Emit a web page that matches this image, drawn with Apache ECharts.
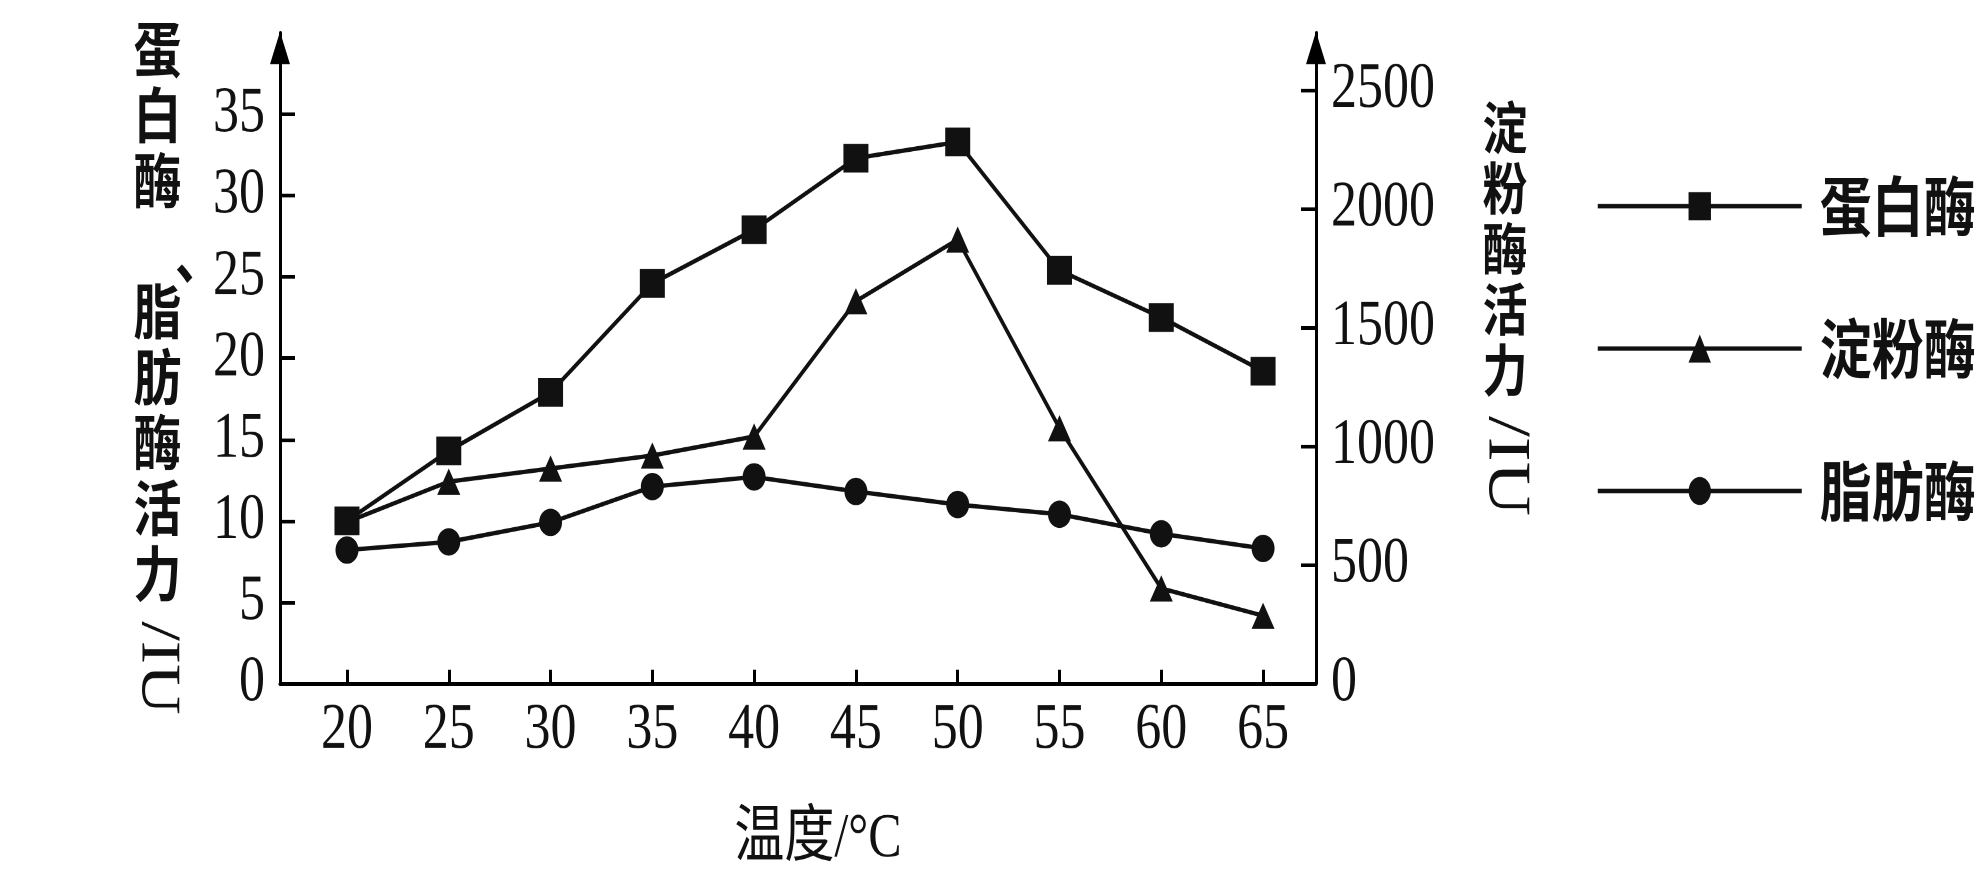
<!DOCTYPE html>
<html>
<head>
<meta charset="utf-8">
<title>温度对酶活力的影响</title>
<script src="https://cdn.jsdelivr.net/npm/echarts@6/dist/echarts.min.js"></script>
<style>
  html, body { margin: 0; padding: 0; background: #fff; overflow: hidden; }
  #wrap { width: 1977px; height: 877px; overflow: hidden; }
  /* the figure is typeset tall and narrow, so the drawing is stretched vertically */
  #chart { width: 1977px; height: 702px; transform: scaleY(1.2493); transform-origin: 0 0; }
</style>
</head>
<body>
<div id="wrap"><div id="chart"></div></div>
<script>
// temperature (°C)
const temperatures = [20, 25, 30, 35, 40, 45, 50, 55, 60, 65];
// protease activity (IU, left axis)
const proteaseActivity = [10.0, 14.3, 17.9, 24.6, 27.9, 32.3, 33.3, 25.4, 22.5, 19.2];
// lipase activity (IU, left axis)
const lipaseActivity = [8.2, 8.7, 9.9, 12.1, 12.7, 11.8, 11.0, 10.4, 9.2, 8.3];
// amylase activity (IU, right axis)
const amylaseActivity = [680, 850, 905, 960, 1040, 1610, 1870, 1075, 400, 285];
// tick labels
const leftTicks = [0, 5, 10, 15, 20, 25, 30, 35];
const rightTicks = [0, 500, 1000, 1500, 2000, 2500];
const seriesNames = ['蛋白酶', '淀粉酶', '脂肪酶'];

const SERIF = "'Liberation Serif', 'Noto Sans CJK SC', serif";
const CJK = "'Noto Sans CJK SC', sans-serif";
const INK = '#111';

const pairs = (vals) => temperatures.map((t, i) => [t, vals[i]]);

const axisLineStyle = { color: '#000', width: 3 };

function yAxisOf(position, max, ticks) {
  return {
    type: 'value',
    position: position,
    min: 0,
    max: max,
    axisLine: {
      show: true,
      lineStyle: axisLineStyle,
      symbol: ['none', 'triangle'],
      symbolSize: [20, 26],
      symbolOffset: [0, -12]
    },
    axisTick: {
      show: true, inside: true, length: 15,
      customValues: ticks,
      lineStyle: { color: '#000', width: 3 }
    },
    axisLabel: {
      show: true, margin: 15,
      customValues: ticks,
      formatter: (v) => String(v),
      fontFamily: SERIF, fontSize: 52, color: INK
    },
    splitLine: { show: false }
  };
}

// vertical axis titles: CJK upright, Latin unit turned clockwise
const titleStyle = (text, size, lh) => ({
  text: text, fontFamily: CJK, fontSize: size, fontWeight: 'bold', lineHeight: lh,
  fill: INK, align: 'center', verticalAlign: 'middle'
});
const unitStyle = (size) => ({
  text: '/IU', fontFamily: SERIF, fontSize: size,
  fill: INK, align: 'center', verticalAlign: 'middle'
});

// rendered at double resolution so the vertical stretch stays sharp
const chart = echarts.init(document.getElementById('chart'), null, { renderer: 'canvas', devicePixelRatio: 2 });

chart.setOption({
  animation: false,
  backgroundColor: '#fff',
  grid: { left: 280, right: 661, top: 26.4, bottom: 142.5, containLabel: false },
  xAxis: {
    type: 'value',
    min: 16.71,
    max: 67.6,
    axisLine: { show: true, lineStyle: axisLineStyle },
    axisTick: {
      show: true, inside: true, length: 11,
      customValues: temperatures,
      lineStyle: { color: '#000', width: 3 }
    },
    axisLabel: {
      show: true, margin: 12,
      customValues: temperatures,
      fontFamily: SERIF, fontSize: 52, color: INK
    },
    splitLine: { show: false },
    name: '温度/°C',
    nameLocation: 'middle',
    nameGap: 100,
    nameTextStyle: {
      fontFamily: SERIF, fontSize: 50, color: INK,
      padding: [0, 0, 0, 40]
    }
  },
  yAxis: [
    yAxisOf('left', 40, leftTicks),
    yAxisOf('right', 2740, rightTicks)
  ],
  legend: {
    orient: 'vertical',
    left: 1591,
    top: 134,
    itemWidth: 204,
    itemHeight: 28,
    itemGap: 62,
    data: seriesNames,
    lineStyle: { width: 3.5, color: INK },
    textStyle: {
      fontFamily: CJK, fontSize: 52, fontWeight: 'bold', color: INK,
      lineHeight: 52, padding: [0, 0, 0, 13]
    }
  },
  graphic: [
    { type: 'text', x: 157.5, y: 91.7, style: titleStyle('蛋\n白\n酶', 48, 52.4) },
    { type: 'text', x: 199, y: 205, style: titleStyle('、', 48, 52.4) },
    { type: 'text', x: 157.5, y: 353.8, style: titleStyle('脂\n肪\n酶\n活\n力', 48, 52.4) },
    { type: 'text', x: 157, y: 534.7, rotation: -Math.PI / 2, style: unitStyle(56) },
    { type: 'text', x: 1505, y: 198.9, style: titleStyle('淀\n粉\n酶\n活\n力', 45, 48.5) },
    { type: 'text', x: 1505, y: 373, rotation: -Math.PI / 2, style: unitStyle(60) }
  ],
  series: [
    {
      name: seriesNames[0], type: 'line', yAxisIndex: 0,
      data: pairs(proteaseActivity),
      symbol: 'rect', symbolSize: [25, 23], showAllSymbol: true,
      lineStyle: { color: INK, width: 3.5 },
      itemStyle: { color: INK }
    },
    {
      name: seriesNames[1], type: 'line', yAxisIndex: 1,
      data: pairs(amylaseActivity),
      symbol: 'triangle', symbolSize: [23, 21], showAllSymbol: true,
      lineStyle: { color: INK, width: 3.5 },
      itemStyle: { color: INK }
    },
    {
      name: seriesNames[2], type: 'line', yAxisIndex: 0,
      data: pairs(lipaseActivity),
      symbol: 'circle', symbolSize: [23, 22], showAllSymbol: true,
      lineStyle: { color: INK, width: 3.5 },
      itemStyle: { color: INK }
    }
  ]
});
</script>
</body>
</html>
